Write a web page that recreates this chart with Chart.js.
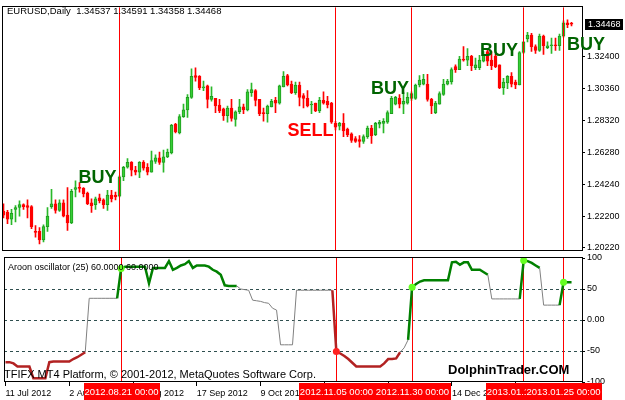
<!DOCTYPE html>
<html>
<head>
<meta charset="utf-8">
<script src="https://cdn.jsdelivr.net/npm/chart.js@4.4.1/dist/chart.umd.min.js"></script>
<style>
  html, body { margin: 0; padding: 0; background: #fff; }
  #wrap { position: relative; width: 625px; height: 400px; overflow: hidden; }
  #priceCanvas { position: absolute; left: 0; top: 0; }
  #oscCanvas { position: absolute; left: 0; top: 250px; }
</style>
</head>
<body>
<div id="wrap">
  <canvas id="priceCanvas" width="625" height="258"></canvas>
  <canvas id="oscCanvas" width="625" height="150"></canvas>
</div>
<script>
// EURUSD daily, 11 Jul 2012 .. 29 Jan 2013 (one entry per bar)
const open = [
  1.2250,1.2244,1.2201,1.2263,1.2275,1.2293,1.2287,1.2281,1.2122,1.2122,
  1.2067,1.2153,1.2281,1.2299,1.2257,1.2305,1.2226,1.2177,1.2391,1.2403,
  1.2397,1.2367,1.2305,1.2293,1.2336,1.2324,1.2293,1.2354,1.2354,1.2348,
  1.2471,1.2532,1.2563,1.2514,1.2501,1.2563,1.2532,1.2501,1.2569,1.2593,
  1.2563,1.2599,1.2624,1.2807,1.2752,1.2856,1.2899,1.2979,1.3119,1.3113,
  1.3040,1.3052,1.2966,1.2973,1.2930,1.2905,1.2862,1.2911,1.2838,1.2887,
  1.2918,1.2899,1.3009,1.3022,1.2966,1.2881,1.2875,1.2918,1.2960,1.2942,
  1.3046,1.3119,1.3064,1.3009,1.3058,1.2991,1.2973,1.2930,1.2942,1.2893,
  1.2960,1.2954,1.2942,1.2813,1.2795,1.2813,1.2777,1.2746,1.2716,1.2709,
  1.2697,1.2728,1.2783,1.2740,1.2807,1.2813,1.2820,1.2875,1.2936,1.2973,
  1.2936,1.2942,1.2973,1.2973,1.3058,1.3064,1.3064,1.2966,1.2881,1.2936,
  1.2997,1.3064,1.3077,1.3175,1.3156,1.3224,1.3217,1.3242,1.3168,1.3168,
  1.3211,1.3272,1.3217,1.3242,1.3187,1.3040,1.3071,1.3113,1.3077,1.3058,
  1.3266,1.3352,1.3377,1.3303,1.3279,1.3370,1.3297,1.3309,1.3315,1.3309,
  1.3370,1.3456,1.34537
];
const high = [
  1.2299,1.2257,1.2263,1.2287,1.2318,1.2299,1.2324,1.2287,1.2159,1.2146,
  1.2165,1.2275,1.2391,1.2324,1.2324,1.2324,1.2403,1.2391,1.2446,1.2434,
  1.2403,1.2373,1.2330,1.2342,1.2361,1.2330,1.2385,1.2385,1.2373,1.2477,
  1.2538,1.2587,1.2569,1.2538,1.2569,1.2575,1.2556,1.2636,1.2611,1.2630,
  1.2642,1.2648,1.2807,1.2813,1.2869,1.2936,1.2997,1.3162,1.3168,1.3119,
  1.3083,1.3058,1.3046,1.2973,1.2966,1.2911,1.2924,1.2966,1.2893,1.2966,
  1.2936,1.3028,1.3071,1.3028,1.2966,1.2911,1.2930,1.2966,1.2979,1.3058,
  1.3144,1.3126,1.3083,1.3077,1.3077,1.3003,1.3022,1.2954,1.2942,1.2979,
  1.3015,1.2985,1.2948,1.2826,1.2820,1.2875,1.2783,1.2752,1.2728,1.2734,
  1.2740,1.2795,1.2801,1.2820,1.2832,1.2844,1.2893,1.2985,1.2985,1.2997,
  1.3009,1.3009,1.3015,1.3064,1.3119,1.3126,1.3126,1.2973,1.2954,1.3015,
  1.3095,1.3095,1.3168,1.3187,1.3242,1.3303,1.3291,1.3248,1.3230,1.3248,
  1.3272,1.3279,1.3272,1.3254,1.3187,1.3101,1.3119,1.3138,1.3089,1.3272,
  1.3334,1.3395,1.3389,1.3315,1.3383,1.3377,1.3334,1.3358,1.3358,1.3383,
  1.3468,1.3474,1.34591
];
const low = [
  1.2208,1.2171,1.2165,1.2183,1.2220,1.2263,1.2208,1.2140,1.2085,1.2042,
  1.2055,1.2122,1.2269,1.2238,1.2250,1.2214,1.2128,1.2171,1.2342,1.2373,
  1.2342,1.2293,1.2244,1.2263,1.2305,1.2269,1.2257,1.2311,1.2324,1.2342,
  1.2446,1.2526,1.2477,1.2483,1.2465,1.2514,1.2483,1.2501,1.2556,1.2550,
  1.2501,1.2593,1.2618,1.2752,1.2746,1.2850,1.2850,1.2973,1.3083,1.3028,
  1.3022,1.2911,1.2954,1.2881,1.2881,1.2832,1.2820,1.2826,1.2795,1.2875,
  1.2875,1.2893,1.2985,1.2924,1.2862,1.2826,1.2820,1.2918,1.2881,1.2936,
  1.3046,1.3052,1.3003,1.2997,1.2924,1.2911,1.2918,1.2875,1.2887,1.2881,
  1.2936,1.2911,1.2813,1.2771,1.2771,1.2728,1.2728,1.2691,1.2691,1.2660,
  1.2685,1.2716,1.2685,1.2734,1.2783,1.2752,1.2813,1.2875,1.2930,1.2911,
  1.2875,1.2936,1.2960,1.2966,1.3046,1.3058,1.2954,1.2875,1.2875,1.2936,
  1.2991,1.3058,1.3064,1.3138,1.3156,1.3211,1.3181,1.3150,1.3156,1.3156,
  1.3205,1.3181,1.3156,1.3168,1.3034,1.2997,1.3034,1.3046,1.3034,1.3058,
  1.3260,1.3334,1.3272,1.3260,1.3272,1.3254,1.3291,1.3260,1.3279,1.3279,
  1.3364,1.3425,1.34358
];
const close = [
  1.2226,1.2201,1.2238,1.2275,1.2293,1.2281,1.2275,1.2153,1.2116,1.2067,
  1.2153,1.2220,1.2299,1.2257,1.2305,1.2220,1.2177,1.2379,1.2403,1.2397,
  1.2361,1.2299,1.2287,1.2330,1.2318,1.2293,1.2354,1.2330,1.2342,1.2471,
  1.2532,1.2563,1.2514,1.2501,1.2563,1.2526,1.2501,1.2575,1.2593,1.2563,
  1.2599,1.2630,1.2801,1.2758,1.2856,1.2899,1.2979,1.3113,1.3107,1.3040,
  1.3046,1.2966,1.2985,1.2924,1.2893,1.2862,1.2911,1.2844,1.2887,1.2918,
  1.2899,1.3015,1.3028,1.2960,1.2875,1.2875,1.2924,1.2954,1.2942,1.3052,
  1.3113,1.3058,1.3009,1.3058,1.2979,1.2973,1.2924,1.2936,1.2893,1.2960,
  1.2942,1.2930,1.2820,1.2789,1.2813,1.2764,1.2740,1.2703,1.2697,1.2697,
  1.2728,1.2783,1.2734,1.2813,1.2820,1.2826,1.2881,1.2973,1.2979,1.2936,
  1.2954,1.2979,1.3003,1.3058,1.3089,1.3095,1.2966,1.2924,1.2942,1.3003,
  1.3064,1.3083,1.3156,1.3156,1.3224,1.3217,1.3242,1.3181,1.3187,1.3217,
  1.3248,1.3211,1.3181,1.3175,1.3040,1.3077,1.3113,1.3064,1.3058,1.3266,
  1.3334,1.3377,1.3303,1.3279,1.3370,1.3309,1.3309,1.3315,1.3309,1.3370,
  1.3456,1.3444,1.34468
];

// Aroon oscillator (25), one value per bar
const aroon = [
  -68,-68,-70,-75,-75,-75,-75,-94,-94,-94,
  -94,-68,-67,-67,-67,-67,-67,-63,-60,-56,
  -52, 35, 35, 35, 35, 35, 35, 35, 35, 83,
   86, 86, 86, 86, 86, 86, 59, 84, 84, 84,
   84, 95, 81, 84, 88, 90, 95, 84, 88, 88,
   88, 86, 81, 78, 73, 56, 55, 55, 55, 50,
   49, 48, 32, 31, 30, 28, 27, 19, 16,-40,
  -40,-40,-40, 48, 48, 48, 48, 48, 48, 48,
   48, 48, 48,-51,-54,-58,-63,-69,-75,-75,
  -75,-75,-75,-75,-75,-70,-63,-63,-62,-52,
  -45,-32, 53, 58, 62, 64, 64, 64, 64, 64,
   64, 64, 93, 94, 89, 93, 93, 81, 81, 81,
   77, 73, 34, 34, 34, 34, 34, 34, 34, 34,
   96, 95, 92, 88, 84, 24, 24, 24, 24, 24,
   61, 61, 61
];

// axis ticks
const tickBars = [0, 16, 32, 48, 64, 80, 96, 112, 128];
const tickLabels = ['11 Jul 2012', '2 Aug 2012', '24 Aug 2012', '17 Sep 2012', '9 Oct 2012',
                    '31 Oct 2012', '22 Nov 2012', '14 Dec 2012', '9 Jan 2013'];
const priceTicks = [1.2022, 1.2220, 1.2424, 1.2628, 1.2832, 1.3036, 1.3240];
const oscTicks = [100, 50, 0, -50, -100];
const oscLevels = [50, 0, -50];

// signals
const signalBars = [29, 83, 102, 130, 140];
const signalLabels = ['BUY', 'SELL', 'BUY', 'BUY', 'BUY'];
const signalDates = ['2012.08.21 00:00', '2012.11.05 00:00', '2012.11.30 00:00', '2013.01.11 00:00', '2013.01.25 00:00'];
const signalTextBars = [23.5, 76.75, 96.6, 123.9, 145.6];
const signalTextPrices = [1.2465, 1.2761, 1.3031, 1.3272, 1.3312];

const titleText = 'EURUSD,Daily  1.34537 1.34591 1.34358 1.34468';
const oscTitle = 'Aroon oscillator (25) 60.0000 60.0000';
const copyText = 'TFIFX MT4 Platform, \u00A9 2001-2012, MetaQuotes Software Corp.';
const siteText = 'DolphinTrader.COM';

const BULL = '#36cf36', BULL_EDGE = '#1e9c1e', BEAR = '#ff0000';
const FONT = "'Liberation Sans', Arial, sans-serif";
Chart.defaults.font.family = FONT;
Chart.defaults.color = '#000';

const isBull = i => close[i] >= open[i];
const xRange = { min: -0.375, max: 144.625 };

function frame(ctx, a) {
  ctx.save();
  ctx.strokeStyle = '#000';
  ctx.lineWidth = 1;
  const x0 = Math.round(a.left) + 0.5, x1 = Math.round(a.right) + 0.5;
  const y0 = Math.round(a.top) - 0.5, y1 = Math.round(a.bottom) - 0.5;
  ctx.strokeRect(x0, y0, x1 - x0, y1 - y0);
  ctx.restore();
}

function signalLines(chart) {
  const ctx = chart.ctx, a = chart.chartArea, xs = chart.scales.x;
  ctx.save();
  ctx.strokeStyle = '#ff0000';
  ctx.lineWidth = 1;
  signalBars.forEach(b => {
    const x = Math.floor(xs.getPixelForValue(b)) + 0.5;
    ctx.beginPath();
    ctx.moveTo(x, a.top);
    ctx.lineTo(x, a.bottom);
    ctx.stroke();
  });
  ctx.restore();
}

const pricePlugin = {
  id: 'priceDecor',
  afterDatasetsDraw(chart) { signalLines(chart); },
  afterDraw(chart) {
    const ctx = chart.ctx, a = chart.chartArea;
    const xs = chart.scales.x, ys = chart.scales.y;
    frame(ctx, a);
    ctx.save();
    ctx.fillStyle = '#000';
    ctx.font = '9.5px ' + FONT;
    ctx.textBaseline = 'middle';
    ctx.textAlign = 'left';
    ctx.fillText(titleText, 7, 11);

    ctx.font = 'bold 18px ' + FONT;
    ctx.textAlign = 'center';
    signalLabels.forEach((t, k) => {
      ctx.fillStyle = t === 'SELL' ? '#ff0000' : '#006400';
      ctx.fillText(t, xs.getPixelForValue(signalTextBars[k]), ys.getPixelForValue(signalTextPrices[k]));
    });

    // current price marker
    const last = close[close.length - 1];
    const y = Math.round(ys.getPixelForValue(last));
    ctx.fillStyle = '#000';
    ctx.fillRect(585, y - 5, 38, 11);
    ctx.fillStyle = '#fff';
    ctx.font = '9px ' + FONT;
    ctx.textAlign = 'left';
    ctx.fillText(last.toFixed(5), 588, y + 0.5);
    ctx.restore();
  }
};

const oscPlugin = {
  id: 'oscDecor',
  beforeDatasetsDraw(chart) {
    const ctx = chart.ctx, a = chart.chartArea, ys = chart.scales.y;
    ctx.save();
    ctx.strokeStyle = '#2f4f4f';
    ctx.lineWidth = 1;
    ctx.setLineDash([3, 3]);
    oscLevels.forEach(v => {
      const y = Math.round(ys.getPixelForValue(v)) + 0.5;
      ctx.beginPath();
      ctx.moveTo(a.left, y);
      ctx.lineTo(a.right, y);
      ctx.stroke();
    });
    ctx.restore();
    signalLines(chart);
  },
  afterDraw(chart) {
    const ctx = chart.ctx, a = chart.chartArea, xs = chart.scales.x;
    frame(ctx, a);
    ctx.save();
    ctx.fillStyle = '#000';
    ctx.textBaseline = 'middle';
    ctx.textAlign = 'left';
    ctx.font = '9px ' + FONT;
    ctx.fillText(oscTitle, 8, a.top + 10);
    ctx.font = '11px ' + FONT;
    ctx.fillText(copyText, 4, a.bottom - 7.5);
    ctx.font = 'bold 13px ' + FONT;
    ctx.fillText(siteText, 448, a.bottom - 12);

    // date boxes of the signal lines
    ctx.font = '9.5px ' + FONT;
    ctx.textAlign = 'center';
    signalBars.forEach((b, k) => {
      const x = Math.floor(xs.getPixelForValue(b)) + 0.5;
      const w = Math.ceil(ctx.measureText(signalDates[k]).width) + 2;
      ctx.fillStyle = '#ff0000';
      ctx.fillRect(Math.round(x - w / 2), a.bottom + 1, w, 18);
      ctx.fillStyle = '#fff';
      ctx.fillText(signalDates[k], x, a.bottom + 10);
    });
    ctx.restore();
  }
};

const barIdx = open.map((_, i) => i);

new Chart(document.getElementById('priceCanvas'), {
  type: 'bar',
  data: {
    datasets: [
      {
        label: 'body',
        data: barIdx.map(i => ({ x: i, y: [Math.min(open[i], close[i]), Math.max(open[i], close[i])] })),
        barThickness: 3,
        minBarLength: 1,
        grouped: false,
        borderSkipped: false,
        borderWidth: 1,
        backgroundColor: c => isBull(c.dataIndex) ? BULL : BEAR,
        borderColor: c => isBull(c.dataIndex) ? BULL_EDGE : BEAR
      },
      {
        label: 'wick',
        data: barIdx.map(i => ({ x: i, y: [low[i], high[i]] })),
        barThickness: 1,
        grouped: false,
        backgroundColor: c => isBull(c.dataIndex) ? '#2ab82a' : BEAR
      }
    ]
  },
  options: {
    responsive: false,
    animation: false,
    layout: { padding: { left: 2, top: 2, bottom: 2, right: 0 } },
    plugins: { legend: { display: false }, tooltip: { enabled: false } },
    scales: {
      x: { type: 'linear', offset: false, min: xRange.min, max: xRange.max, display: false },
      y: {
        position: 'right',
        min: 1.19995,
        max: 1.3554,
        border: { display: false },
        grid: { drawOnChartArea: false, tickLength: 3, tickColor: '#000' },
        ticks: { padding: 2, autoSkip: false, font: { size: 9 }, color: '#000', callback: v => v.toFixed(5) },
        afterBuildTicks: s => { s.ticks = priceTicks.map(v => ({ value: v })); },
        afterFit: s => { s.width = 43; }
      }
    }
  },
  plugins: [pricePlugin]
});

new Chart(document.getElementById('oscCanvas'), {
  type: 'line',
  data: {
    datasets: [
      {
        label: 'signals',
        data: signalBars.map(b => ({ x: b, y: aroon[b] })),
        showLine: false,
        pointRadius: 3.5,
        pointBorderWidth: 0,
        pointBackgroundColor: c => c.raw.y > 0 ? '#66ff22' : '#ff2020'
      },
      {
        label: 'Aroon',
        data: aroon.map((v, i) => ({ x: i, y: v })),
        pointRadius: 0,
        borderWidth: 1,
        borderColor: '#808080',
        segment: {
          borderColor: c => c.p1.parsed.y > 50 ? '#008000' : (c.p1.parsed.y < -50 ? '#b22222' : '#808080'),
          borderWidth: c => (c.p1.parsed.y > 50 || c.p1.parsed.y < -50) ? 2.5 : 1
        }
      }
    ]
  },
  options: {
    responsive: false,
    animation: false,
    layout: { padding: { left: 2, top: 8, bottom: 0, right: 0 } },
    plugins: { legend: { display: false }, tooltip: { enabled: false } },
    scales: {
      x: {
        type: 'linear',
        offset: false,
        min: xRange.min,
        max: xRange.max,
        border: { display: false },
        grid: { drawOnChartArea: false, tickLength: 4, tickColor: '#000' },
        ticks: {
          align: 'start', padding: 2, autoSkip: false, maxRotation: 0, font: { size: 9 }, color: '#000',
          callback: v => { const k = tickBars.indexOf(v); return k >= 0 ? tickLabels[k] : ''; }
        },
        afterBuildTicks: s => { s.ticks = tickBars.map(v => ({ value: v })); },
        afterFit: s => { s.height = 18; }
      },
      y: {
        position: 'right',
        min: -100,
        max: 100,
        border: { display: false },
        grid: { drawOnChartArea: false, tickLength: 3, tickColor: '#000' },
        ticks: { padding: 2, autoSkip: false, font: { size: 9 }, color: '#000', callback: v => v === 0 ? '0.00' : String(v) },
        afterBuildTicks: s => { s.ticks = oscTicks.map(v => ({ value: v })); },
        afterFit: s => { s.width = 43; }
      }
    }
  },
  plugins: [oscPlugin]
});
</script>
</body>
</html>
